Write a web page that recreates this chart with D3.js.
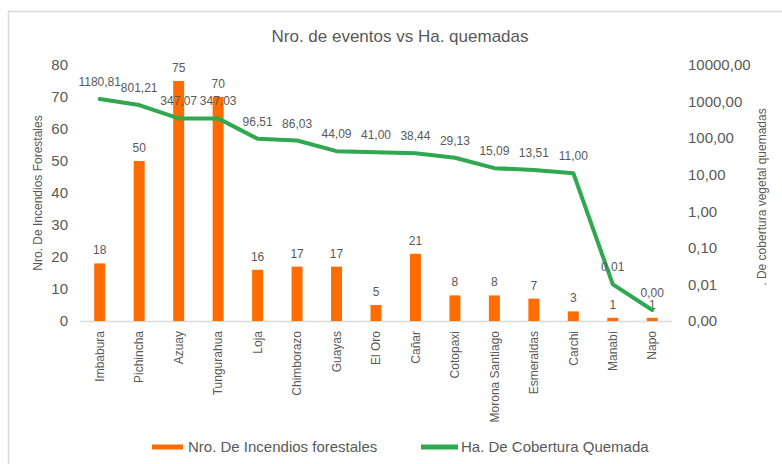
<!DOCTYPE html>
<html><head><meta charset="utf-8">
<script src="https://cdn.jsdelivr.net/npm/d3@7"></script>
<style>body{margin:0;background:#fff}svg{display:block;font-family:"Liberation Sans",Arial,sans-serif}</style>
</head><body><svg id="c" width="782" height="464"></svg>
<script>
const categories = ["Imbabura","Pichincha","Azuay","Tungurahua","Loja","Chimborazo","Guayas","El Oro","Cañar","Cotopaxi","Morona Santiago","Esmeraldas","Carchi","Manabí","Napo"];
const incendios = [18,50,75,70,16,17,17,5,21,8,8,7,3,1,1];
const hectareas = [1180.81,801.21,347.07,347.03,96.51,86.03,44.09,41.00,38.44,29.13,15.09,13.51,11.00,0.01,0.002];
const leftTicks = [0,10,20,30,40,50,60,70,80];
const rightTicks = [0.001,0.01,0.1,1,10,100,1000,10000];
const title = "Nro. de eventos vs Ha. quemadas";
const leftTitle = "Nro. De Incendios Forestales";
const rightTitle = ". De cobertura vegetal quemadas";
const seriesNames = ["Nro. De Incendios forestales","Ha. De Cobertura Quemada"];

const orange = "#ff6d00", green = "#2fa84f", txt = "#595959";
const svg = d3.select("#c");
const pTop = 65, pBottom = 321, pLeft = 80, pRight = 672;

// border
svg.append("rect").attr("x",8.5).attr("y",11.5).attr("width",800).attr("height",500)
  .attr("fill","none").attr("stroke","#d9d9d9").attr("stroke-width",1.5);

svg.append("text").attr("x",400).attr("y",42).attr("text-anchor","middle")
  .attr("font-size",17).attr("fill",txt).text(title);

const x = d3.scaleBand().domain(categories).range([pLeft,pRight]);
const yL = d3.scaleLinear().domain([0,80]).range([pBottom,pTop]);
const yR = d3.scaleLog().domain([0.001,10000]).range([pBottom,pTop]);
const fmt = v => d3.format(".2f")(v).replace(".",",");

// left axis
const gL = svg.append("g").attr("transform",`translate(${pLeft-12},0)`)
  .call(d3.axisLeft(yL).tickValues(leftTicks).tickSize(0).tickPadding(0));
gL.select(".domain").remove();
gL.selectAll("text").attr("font-size",15).attr("fill",txt).attr("font-family","Liberation Sans, Arial");

// right axis
const gR = svg.append("g").attr("transform",`translate(${pRight+16},0)`)
  .call(d3.axisRight(yR).tickValues(rightTicks).tickFormat(fmt).tickSize(0).tickPadding(0));
gR.select(".domain").remove();
gR.selectAll("text").attr("font-size",15).attr("fill",txt).attr("font-family","Liberation Sans, Arial");

// x axis
const gX = svg.append("g").attr("transform",`translate(0,${pBottom})`)
  .call(d3.axisBottom(x).tickSize(0).tickPadding(0));
gX.select(".domain").attr("stroke","#d9d9d9").attr("stroke-width",1.5);
gX.selectAll("text").attr("font-size",12).attr("fill",txt).attr("font-family","Liberation Sans, Arial")
  .attr("text-anchor","end").attr("dy","0.35em")
  .attr("transform","translate(0,10) rotate(-90)");

// axis titles
svg.append("text").attr("transform",`translate(42,193) rotate(-90)`).attr("text-anchor","middle")
  .attr("font-size",12).attr("fill",txt).text(leftTitle);
svg.append("text").attr("transform",`translate(766,197) rotate(-90)`).attr("text-anchor","middle")
  .attr("font-size",12).attr("fill",txt).text(rightTitle);

// bars
const bw = 11;
svg.append("g").selectAll("rect").data(incendios).join("rect")
  .attr("x",(d,i)=>x(categories[i])+x.bandwidth()/2-bw/2)
  .attr("y",d=>yL(d)).attr("width",bw).attr("height",d=>pBottom-yL(d)).attr("fill",orange);
svg.append("g").selectAll("text").data(incendios).join("text")
  .attr("x",(d,i)=>x(categories[i])+x.bandwidth()/2).attr("y",d=>yL(d)-9)
  .attr("text-anchor","middle").attr("font-size",12).attr("fill",txt).text(d=>d);

// line
const line = d3.line().x((d,i)=>x(categories[i])+x.bandwidth()/2).y(d=>yR(d));
svg.append("path").datum(hectareas).attr("d",line).attr("fill","none")
  .attr("stroke",green).attr("stroke-width",4).attr("stroke-linejoin","round").attr("stroke-linecap","round");
svg.append("g").selectAll("text").data(hectareas).join("text")
  .attr("x",(d,i)=>x(categories[i])+x.bandwidth()/2).attr("y",d=>yR(d)-13)
  .attr("text-anchor","middle").attr("font-size",12).attr("fill",txt).text(fmt);

// legend
const leg = [{c:orange,x1:152,x2:183,tx:188,t:seriesNames[0]},{c:green,x1:421,x2:458,tx:461,t:seriesNames[1]}];
leg.forEach(l=>{
  svg.append("line").attr("x1",l.x1).attr("x2",l.x2).attr("y1",447).attr("y2",447).attr("stroke",l.c).attr("stroke-width",5);
  svg.append("text").attr("x",l.tx).attr("y",452).attr("font-size",15).attr("fill",txt).text(l.t);
});
</script></body></html>
